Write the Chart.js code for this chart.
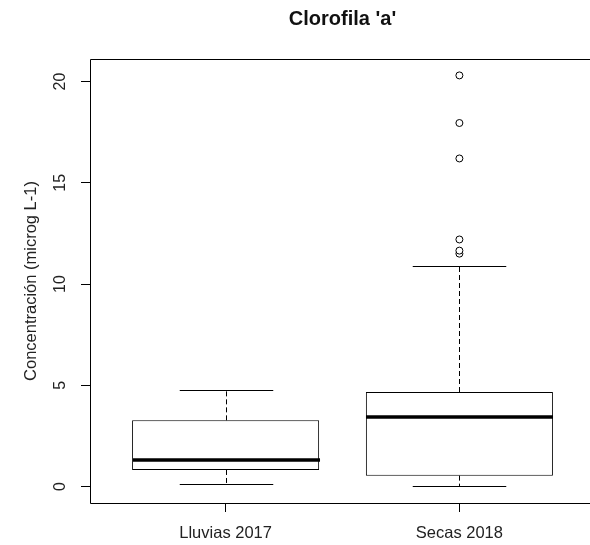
<!DOCTYPE html>
<html>
<head>
<meta charset="utf-8">
<script src="https://cdn.jsdelivr.net/npm/chart.js@4.4.1/dist/chart.umd.min.js"></script>
<style>
html,body{margin:0;padding:0;overflow:hidden;background:#fff;}
#wrap{width:590px;height:545px;overflow:hidden;}
canvas{display:block;}
</style>
</head>
<body>
<div id="wrap"><canvas id="chart" width="600" height="545"></canvas></div>
<script>
// boxplot stats
const categories=["Lluvias 2017","Secas 2018"];
const lowWhisker=[0.13,0.01];
const q1=[0.82,0.54];
const median=[1.32,3.46];
const q3=[3.27,4.67];
const highWhisker=[4.79,10.91];
const outliers=[[],[11.5,11.65,12.2,16.2,17.95,20.3]];
const yTicks=[0,5,10,15,20];

const fontFamily="'Liberation Sans', Arial, sans-serif";
const textColor="#222";
const visibleWidth=590;

// whiskers, caps, medians
const boxParts={
id:"boxParts",
afterDatasetsDraw(chart){
const {ctx,scales:{x,y}}=chart;
ctx.save();
ctx.strokeStyle="#000";
categories.forEach((c,i)=>{
const cx=Math.round(x.getPixelForValue(i+1))+0.5;
const boxHalf=x.getPixelForValue(i+1.4)-x.getPixelForValue(i+1);
const capHalf=boxHalf/2;
const yQ1=y.getPixelForValue(q1[i]), yQ3=y.getPixelForValue(q3[i]);
const yLo=Math.round(y.getPixelForValue(lowWhisker[i]))+0.5;
const yHi=Math.round(y.getPixelForValue(highWhisker[i]))+0.5;

ctx.lineWidth=1;
ctx.setLineDash([5,3]);
ctx.beginPath();
ctx.moveTo(cx,yQ3);ctx.lineTo(cx,yHi);
ctx.moveTo(cx,yQ1);ctx.lineTo(cx,yLo);
ctx.stroke();

ctx.setLineDash([]);
ctx.beginPath();
ctx.moveTo(cx-capHalf,yHi);ctx.lineTo(cx+capHalf,yHi);
ctx.moveTo(cx-capHalf,yLo);ctx.lineTo(cx+capHalf,yLo);
ctx.stroke();

const yMed=Math.round(y.getPixelForValue(median[i]));
ctx.lineWidth=3.5;
ctx.beginPath();
ctx.moveTo(cx-boxHalf,yMed);ctx.lineTo(cx+boxHalf,yMed);
ctx.stroke();
});
ctx.restore();
}
};

// frame round the plot and the rotated y labels
const frame={
id:"frame",
afterDraw(chart){
const {ctx,chartArea:a,scales:{y}}=chart;
const l=Math.round(a.left)+0.5, t=Math.round(a.top)+0.5, b=Math.round(a.bottom)+0.5;
const r=Math.round(a.right)+0.5;
ctx.save();
ctx.strokeStyle="#000";
ctx.lineWidth=1;
ctx.beginPath();
ctx.moveTo(r,t);ctx.lineTo(l,t);ctx.lineTo(l,b);ctx.lineTo(r,b);
// right side of the box falls outside the picture
if(r<visibleWidth)ctx.lineTo(r,t);
ctx.stroke();

ctx.fillStyle=textColor;
ctx.font="16px "+fontFamily;
ctx.textAlign="center";
ctx.textBaseline="middle";
yTicks.forEach(v=>{
ctx.save();
ctx.translate(61,y.getPixelForValue(v));
ctx.rotate(-Math.PI/2);
ctx.fillText(String(v),0,0);
ctx.restore();
});
ctx.restore();
}
};

const ctx=document.getElementById("chart").getContext("2d");

new Chart(ctx,{
type:"bar",
data:{
datasets:[
{
type:"bar",
data:categories.map((c,i)=>({x:i+1,y:[q1[i],q3[i]]})),
backgroundColor:"#fff",
borderColor:"#000",
borderWidth:1,
borderSkipped:false,
barPercentage:0.8,
categoryPercentage:1
},
{
type:"scatter",
data:outliers.flatMap((arr,i)=>arr.map(v=>({x:i+1,y:v}))),
pointRadius:3.5,
pointBorderWidth:1,
pointBorderColor:"#000",
pointBackgroundColor:"#fff",
showLine:false
}
]
},
options:{
responsive:false,
animation:false,
// canvas is 10px wider than the window so the plot box runs past the right edge
layout:{padding:{right:5}},
plugins:{
legend:{display:false},
tooltip:{enabled:false},
title:{
display:true,
text:"Clorofila 'a'",
fullSize:false,
color:"#111",
font:{family:fontFamily,size:20,weight:"bold"},
padding:{top:7,bottom:28}
}
},
scales:{
x:{
type:"linear",
offset:false,
min:0.42,
max:2.58,
afterBuildTicks:s=>{s.ticks=categories.map((c,i)=>({value:i+1}));},
afterFit:s=>{s.height=42;},
border:{display:false},
grid:{offset:false,drawOnChartArea:false,drawTicks:true,tickLength:9,color:"#000"},
ticks:{
callback:v=>categories[v-1],
color:textColor,
font:{family:fontFamily,size:16.5},
padding:12,
maxRotation:0
}
},
y:{
min:-0.81,
max:21.11,
afterBuildTicks:s=>{s.ticks=yTicks.map(v=>({value:v}));},
afterFit:s=>{s.width=90;},
border:{display:false},
grid:{drawOnChartArea:false,drawTicks:true,tickLength:9,color:"#000"},
ticks:{display:false},
title:{
display:true,
text:"Concentración (microg L-1)",
color:textColor,
font:{family:fontFamily,size:16.5},
padding:{top:22,bottom:0}
}
}
}
},
plugins:[boxParts,frame]
});
</script>
</body>
</html>
